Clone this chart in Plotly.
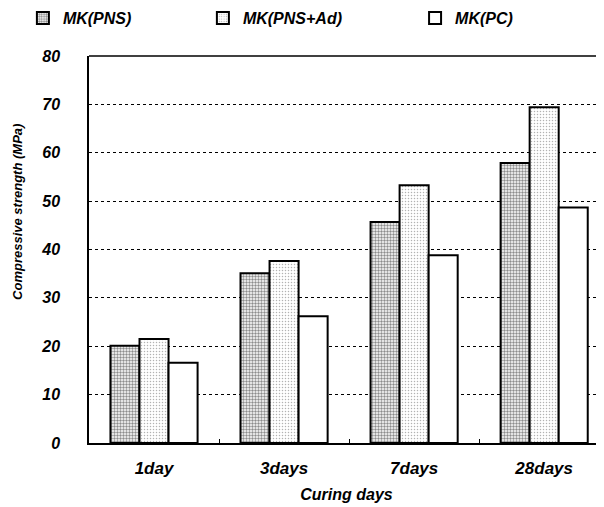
import plotly.graph_objects as go

# dados
dias = ["1day", "3days", "7days", "28days"]
mk_pns = [20.1, 35.1, 45.7, 57.9]
mk_pns_ad = [21.5, 37.6, 53.3, 69.4]
mk_pc = [16.6, 26.2, 38.8, 48.7]
y_ticks = [0, 10, 20, 30, 40, 50, 60, 70, 80]

fonte = dict(family="Liberation Sans", color="black", weight="bold", style="italic")

fig = go.Figure()

fig.add_trace(go.Bar(
    x=dias, y=mk_pns, name="MK(PNS)", legend="legend",
    marker=dict(color="white", line=dict(color="black", width=2),
                pattern=dict(shape=".", fgcolor="#1a1a1a", bgcolor="white",
                             size=3, solidity=0.5))
))
fig.add_trace(go.Bar(
    x=dias, y=mk_pns_ad, name="MK(PNS+Ad)", legend="legend2",
    marker=dict(color="white", line=dict(color="black", width=2),
                pattern=dict(shape=".", fgcolor="#666", bgcolor="white",
                             size=3, solidity=0.2))
))
fig.add_trace(go.Bar(
    x=dias, y=mk_pc, name="MK(PC)", legend="legend3",
    marker=dict(color="white", line=dict(color="black", width=2))
))

leg = dict(orientation="h", xref="container", yref="container",
           y=0.98, yanchor="middle", xanchor="left",
           bgcolor="rgba(0,0,0,0)", font=dict(fonte, size=16),
           itemwidth=30, tracegroupgap=0)

# a página tem margem de 8px no body
fig.update_layout(
    width=596, height=499,
    margin=dict(l=81, r=0, t=48, b=64, autoexpand=False),
    paper_bgcolor="white", plot_bgcolor="white",
    barmode="group", bargap=0.33, bargroupgap=0,
    showlegend=True,
    legend=dict(leg, x=0.025),
    legend2=dict(leg, x=0.327),
    legend3=dict(leg, x=0.683),
    font=fonte,
)

fig.update_xaxes(
    range=[-0.5, 3.46],
    showline=True, linecolor="black", linewidth=1.5,
    ticks="inside", tickson="boundaries", ticklen=4, tickcolor="black",
    tickfont=dict(fonte, size=17), ticklabelstandoff=9,
    title=dict(text="Curing days", font=dict(fonte, size=16), standoff=12),
)
fig.update_yaxes(
    range=[0, 80], tickvals=y_ticks,
    showline=True, linecolor="black", linewidth=1.5,
    showgrid=True, gridcolor="black", griddash="dot", gridwidth=1,
    zeroline=False,
    tickfont=dict(fonte, size=16), ticks="", ticklabelstandoff=24,
)

# título do eixo y
fig.add_annotation(text="Compressive strength (MPa)", textangle=-90,
                   xref="paper", yref="paper", x=-0.138, y=0.597,
                   xanchor="center", yanchor="middle", showarrow=False,
                   font=dict(fonte, size=13))

# linha superior do quadro
fig.add_shape(type="line", xref="paper", yref="paper", x0=0, x1=1, y0=1, y1=1,
              line=dict(color="black", width=1.5))

fig.write_html("out.html")
